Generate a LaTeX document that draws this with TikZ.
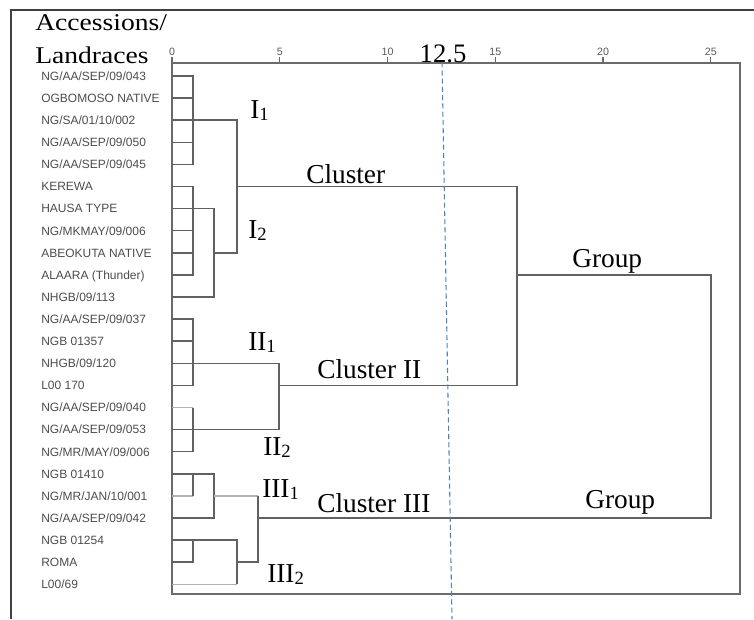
\documentclass[tikz,border=0pt]{standalone}
\usepackage{fontspec}
\setmainfont{Liberation Serif}
\newfontfamily\leaffont{Liberation Sans}
\usepackage{graphicx}

\definecolor{cutblue}{RGB}{79,129,189}
\newcommand\lowidx[1]{\raisebox{-1.5pt}{\fontsize{14}{14}\selectfont #1}}

\tikzset{
  leaf/.style={anchor=base west, inner sep=0pt, font=\leaffont\fontsize{9}{9}\selectfont, text=black!70},
  tag/.style={anchor=base west, inner sep=0pt, font=\fontsize{20.5}{20.5}\selectfont},
  head/.style={anchor=base west, inner sep=0pt, font=\fontsize{18}{18}\selectfont},
  tick/.style={anchor=base, inner sep=0pt, font=\leaffont\fontsize{8}{8}\selectfont, text=black!65},
  link/.style={draw=black!62, line width=1.1pt},
  faint/.style={draw=black!30, line width=0.9pt},
  frame/.style={draw=black!58, line width=1pt},
  cutline/.style={draw=cutblue, line width=0.8pt, dash pattern=on 3.8pt off 2.4pt}
}

\begin{document}
\begin{tikzpicture}[x=0.75pt, y=-0.75pt]
  \useasboundingbox (0,0) rectangle (754,619);

  % outer frame and plot box
  \draw[draw=black!75, line width=1.2pt] (11,619) -- (11,10) -- (754,10);
  \draw[frame] (172,63) rectangle (740,594);

  % distance scale
  \foreach \t in {0,5,...,25} {
    \draw[frame] (172+21.55*\t,57) -- (172+21.55*\t,63);
    \node[tick] at (172+21.55*\t,55) {\t};
  }

  % heading
  \node (head1) [head] at (35,30) {\scalebox{1.15}[1]{Accessions/}};
  \node (head2) [head] at (35,63) {\scalebox{1.15}[1]{Landraces}};

  % accessions
  \foreach \name [count=\i] in {NG/AA/SEP/09/043, OGBOMOSO NATIVE, NG/SA/01/10/002,
      NG/AA/SEP/09/050, NG/AA/SEP/09/045, KEREWA, HAUSA TYPE, NG/MKMAY/09/006,
      ABEOKUTA NATIVE, ALAARA (Thunder), NHGB/09/113, NG/AA/SEP/09/037, NGB 01357,
      NHGB/09/120, L00 170, NG/AA/SEP/09/040, NG/AA/SEP/09/053, NG/MR/MAY/09/006,
      NGB 01410, NG/MR/JAN/10/001, NG/AA/SEP/09/042, NGB 01254, ROMA, L00/69} {
    \coordinate (s\i) at (172,{76+22.1*(\i-1)});
    \node (n\i) [leaf] at (41,{80.3+22.1*(\i-1)}) {\name};
  }

  % merge levels
  \coordinate (h1) at (193,0);
  \coordinate (h2) at (214,0);
  \coordinate (h3) at (237,0);
  \coordinate (h4) at (258,0);
  \coordinate (h5) at (279,0);
  \coordinate (h6) at (517,0);
  \coordinate (h7) at (711,0);

  % merge points
  \coordinate (i1) at (s3 -| h1);
  \coordinate (i2a) at (s7 -| h1);
  \coordinate (i2) at (s9 -| h2);
  \coordinate (ci) at (s6 -| h3);
  \coordinate (ii1) at (s14 -| h1);
  \coordinate (ii2) at (s17 -| h1);
  \coordinate (cii) at (s15 -| h5);
  \coordinate (gi) at (s10 -| h6);
  \coordinate (iii1a) at (s19 -| h1);
  \coordinate (iii1) at (s20 -| h2);
  \coordinate (iii2a) at (s22 -| h1);
  \coordinate (iii2) at (s23 -| h3);
  \coordinate (ciii) at (s21 -| h4);
  \coordinate (root) at (s15 -| h7);

  % cluster I
  \foreach \i in {1,...,5} \draw[link] (s\i) -| (i1);
  \foreach \i in {6,...,10} \draw[link] (s\i) -| (i2a);
  \draw[link] (i2a) -| (i2);
  \draw[link] (s11) -| (i2);
  \draw[link] (i1) -| (ci);
  \draw[link] (i2) -| (ci);

  % cluster II
  \foreach \i in {12,...,15} \draw[link] (s\i) -| (ii1);
  \draw[faint] (s16) -- (s16 -| ii2);
  \draw[link] (s16 -| ii2) -- (ii2);
  \draw[link] (s17) -- (ii2);
  \draw[link] (s18) -| (ii2);
  \draw[link] (ii1) -| (cii);
  \draw[link] (ii2) -| (cii);

  % cluster III
  \draw[link] (s19) -- (iii1a);
  \draw[faint] (s20) -- (s20 -| iii1a);
  \draw[link] (s20 -| iii1a) -- (iii1a);
  \draw[link] (iii1a) -| (iii1);
  \draw[link] (s21) -| (iii1);
  \draw[link] (s22) -- (iii2a);
  \draw[link] (s23) -| (iii2a);
  \draw[link] (iii2a) -| (iii2);
  \draw[faint] (s24) -- (s24 -| iii2);
  \draw[link] (s24 -| iii2) -- (iii2);
  \draw[faint] (iii1) -- (iii1 -| ciii);
  \draw[link] (iii1 -| ciii) -- (ciii);
  \draw[link] (iii2) -| (ciii);

  % groups
  \draw[link] (ci) -| (gi);
  \draw[link] (cii) -| (gi);
  \draw[link] (gi) -| (root);
  \draw[link] (ciii) -| (root);

  % cut at 12.5
  \coordinate (cuttop) at (442,62);
  \coordinate (cutbot) at (452,619);
  \draw[cutline] (cuttop) -- (cutbot);
  \node (cutval) [anchor=base, inner sep=0pt, font=\fontsize{20}{20}\selectfont] at (443,62) {12.5};

  % cluster names
  \node (tI1) [tag] at (250,118) {I\lowidx{1}};
  \node (tI2) [tag] at (248,238) {I\lowidx{2}};
  \node (tII1) [tag] at (248,350) {II\lowidx{1}};
  \node (tII2) [tag] at (263,455) {II\lowidx{2}};
  \node (tIII1) [tag] at (262,497) {III\lowidx{1}};
  \node (tIII2) [tag] at (267,582) {III\lowidx{2}};
  \node (cl1) [tag] at (306,183) {Cluster};
  \node (cl2) [tag] at (317,378) {Cluster II};
  \node (cl3) [tag] at (317,512) {Cluster III};
  \node (gr1) [tag] at (572,267) {Group};
  \node (gr2) [tag] at (585,508) {Group};
\end{tikzpicture}
\end{document}
